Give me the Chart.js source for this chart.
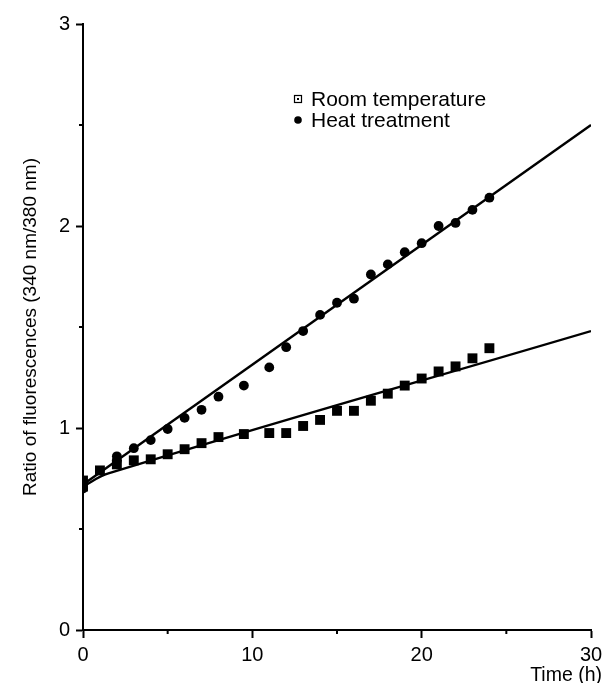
<!DOCTYPE html>
<html>
<head>
<meta charset="utf-8">
<script src="https://cdn.jsdelivr.net/npm/chart.js@4/dist/chart.umd.min.js"></script>
<style>
  html, body { margin: 0; padding: 0; background: #fff; }
  #wrap { width: 611px; height: 683px; }
</style>
</head>
<body>
<div id="wrap"><canvas id="fluoChart" width="611" height="683"></canvas></div>
<script>
// data
var roomTimes  = [0, 0, 1, 2, 3, 4, 5, 6, 7, 8, 9.5, 11, 12, 13, 14, 15, 16, 17, 18, 19, 20, 21, 22, 23, 24];
var roomValues = [0.74, 0.71, 0.79, 0.82, 0.84, 0.845, 0.87, 0.895, 0.925, 0.955, 0.97, 0.975, 0.975, 1.01, 1.04, 1.085, 1.085, 1.135, 1.17, 1.21, 1.245, 1.28, 1.305, 1.345, 1.395];

var heatTimes  = [0, 0, 2, 2, 3, 4, 5, 6, 7, 8, 9.5, 11, 12, 13, 14, 15, 16, 17, 18, 19, 20, 21, 22, 23, 24];
var heatValues = [0.73, 0.70, 0.84, 0.86, 0.90, 0.94, 0.995, 1.05, 1.09, 1.155, 1.21, 1.30, 1.40, 1.48, 1.56, 1.62, 1.64, 1.76, 1.81, 1.87, 1.915, 2.0, 2.015, 2.08, 2.14];

// regression lines drawn in the figure
var roomFitTimes  = [0, 1.5, 30];
var roomFitValues = [0.71, 0.775, 1.48];
var heatFitTimes  = [0, 30];
var heatFitValues = [0.72, 2.50];

var xTicks = [0, 10, 20, 30];
var xMinorTicks = [5, 15, 25];
var yTicks = [0, 1, 2, 3];
var yMinorTicks = [0.5, 1.5, 2.5];

var legendLabels = ["Room temperature", "Heat treatment"];

function toPoints(xs, ys) {
  return xs.map(function (x, i) { return { x: x, y: ys[i] }; });
}

var fontFamily = "'Liberation Sans', Arial, Helvetica, sans-serif";

// minor ticks, x axis title and the in-plot legend
var extrasPlugin = {
  id: "extras",
  afterDraw: function (chart) {
    var ctx = chart.ctx;
    var xs = chart.scales.x, ys = chart.scales.y;
    var area = chart.chartArea;
    ctx.save();
    ctx.strokeStyle = "#000";
    ctx.lineWidth = 2;
    xMinorTicks.forEach(function (v) {
      var px = xs.getPixelForValue(v);
      ctx.beginPath();
      ctx.moveTo(px, area.bottom);
      ctx.lineTo(px, area.bottom + 4);
      ctx.stroke();
    });
    yMinorTicks.forEach(function (v) {
      var py = ys.getPixelForValue(v);
      ctx.beginPath();
      ctx.moveTo(area.left, py);
      ctx.lineTo(area.left - 4, py);
      ctx.stroke();
    });

    ctx.fillStyle = "#000";
    ctx.font = "19.5px " + fontFamily;
    ctx.textAlign = "right";
    ctx.textBaseline = "alphabetic";
    ctx.fillText("Time (h)", area.right + 11, chart.height - 2);

    // legend
    var lx = area.left + 215, ly = area.top + 75;
    ctx.lineWidth = 1.2;
    ctx.strokeRect(lx - 3.5, ly - 3.5, 7, 7);
    ctx.fillRect(lx - 1, ly - 1, 2, 2);
    ctx.beginPath();
    ctx.arc(lx, ly + 21, 3.8, 0, Math.PI * 2);
    ctx.fill();
    ctx.font = "21px " + fontFamily;
    ctx.textAlign = "left";
    ctx.textBaseline = "middle";
    ctx.fillText(legendLabels[0], lx + 13, ly + 1);
    ctx.fillText(legendLabels[1], lx + 13, ly + 22);
    ctx.restore();
  }
};

var config = {
  type: "scatter",
  data: {
    datasets: [
      {
        label: legendLabels[0],
        data: toPoints(roomTimes, roomValues),
        pointStyle: "rect",
        pointRadius: 7,
        backgroundColor: "#000",
        borderColor: "#000",
        borderWidth: 0
      },
      {
        label: legendLabels[1],
        data: toPoints(heatTimes, heatValues),
        pointStyle: "circle",
        pointRadius: 4.9,
        backgroundColor: "#000",
        borderColor: "#000",
        borderWidth: 0
      },
      {
        label: "room fit",
        data: toPoints(roomFitTimes, roomFitValues),
        showLine: true,
        pointRadius: 0,
        borderColor: "#000",
        borderWidth: 2.4,
        tension: 0.4
      },
      {
        label: "heat fit",
        data: toPoints(heatFitTimes, heatFitValues),
        showLine: true,
        pointRadius: 0,
        borderColor: "#000",
        borderWidth: 2.4
      }
    ]
  },
  options: {
    responsive: false,
    animation: false,
    layout: { padding: { top: 24, right: 20, left: 0, bottom: 0 } },
    plugins: {
      legend: { display: false },
      tooltip: { enabled: false }
    },
    scales: {
      x: {
        type: "linear",
        min: 0,
        max: 30,
        afterBuildTicks: function (scale) {
          scale.ticks = xTicks.map(function (v) { return { value: v }; });
        },
        afterFit: function (scale) { scale.height = 53; },
        ticks: {
          color: "#000",
          font: { family: fontFamily, size: 20 },
          padding: 5,
          maxRotation: 0
        },
        grid: { drawOnChartArea: false, color: "#000", tickLength: 8, tickWidth: 2 },
        border: { color: "#000", width: 2 }
      },
      y: {
        min: 0,
        max: 3,
        afterBuildTicks: function (scale) {
          scale.ticks = yTicks.map(function (v) { return { value: v }; });
        },
        afterFit: function (scale) { scale.width = 83; },
        ticks: {
          color: "#000",
          font: { family: fontFamily, size: 20 },
          padding: 6
        },
        grid: { drawOnChartArea: false, color: "#000", tickLength: 7, tickWidth: 2 },
        border: { color: "#000", width: 2 },
        title: {
          display: true,
          text: "Ratio of fluorescences (340 nm/380 nm)",
          color: "#000",
          font: { family: fontFamily, size: 19 },
          padding: { top: 19, bottom: 0 }
        }
      }
    }
  },
  plugins: [extrasPlugin]
};

var fluoChart = new Chart(document.getElementById("fluoChart"), config);
</script>
</body>
</html>
